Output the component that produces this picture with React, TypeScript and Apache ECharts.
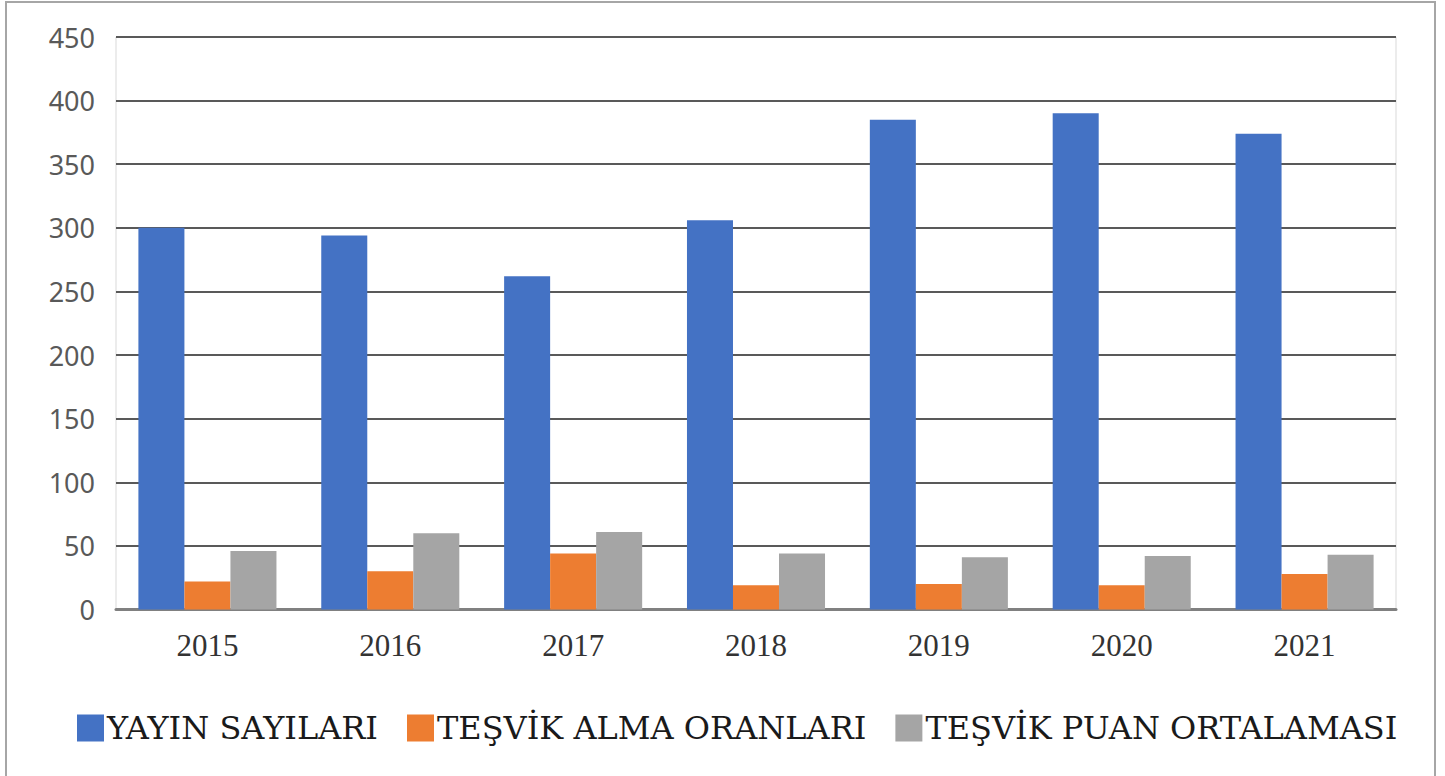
import React, { useEffect, useRef } from "react";
import * as echarts from "echarts";

const categories = ["2015", "2016", "2017", "2018", "2019", "2020", "2021"];
const yayinSayilari = [300, 294, 262, 306, 385, 390, 374];
const tesvikAlmaOranlari = [22, 30, 44, 19, 20, 19, 28];
const tesvikPuanOrtalamasi = [46, 60, 61, 44, 41, 42, 43];
const seriesNames = ["YAYIN SAYILARI", "TEŞVİK ALMA ORANLARI", "TEŞVİK PUAN ORTALAMASI"];
const colors = ["#4472C4", "#ED7D31", "#A5A5A5"];

export default function App() {
  const ref = useRef<HTMLDivElement>(null);
  useEffect(() => {
    document.body.style.margin = "0";
    const chart = echarts.init(ref.current!, undefined, { renderer: "svg" });
    const data = [yayinSayilari, tesvikAlmaOranlari, tesvikPuanOrtalamasi];
    chart.setOption({
      animation: false,
      backgroundColor: "#ffffff",
      color: colors,
      grid: {
        left: 116,
        right: 49,
        top: 37,
        bottom: 166.5,
        show: true,
        borderColor: "#d9d9d9",
        borderWidth: 1,
      },
      legend: {
        left: 72,
        top: 707,
        itemWidth: 27,
        itemHeight: 27,
        itemGap: 29,
        icon: "rect",
        textStyle: {
          fontFamily: "DejaVu Serif",
          fontSize: 32,
          color: "#1a1a1a",
          padding: [0, 0, 0, -2],
        },
        data: seriesNames,
      },
      xAxis: {
        type: "category",
        data: categories,
        axisLine: { show: true, lineStyle: { color: "#808080", width: 3 } },
        axisTick: { show: false },
        axisLabel: {
          fontFamily: "Liberation Serif",
          fontSize: 31,
          color: "#333333",
          margin: 20,
        },
      },
      yAxis: {
        type: "value",
        min: 0,
        max: 450,
        interval: 50,
        axisLine: { show: false },
        axisTick: { show: false },
        splitLine: { lineStyle: { color: "#595959", width: 2 } },
        axisLabel: {
          fontFamily: "Noto Sans",
          fontSize: 27,
          color: "#595959",
          margin: 21,
        },
      },
      series: seriesNames.map((name, i) => ({
        name,
        type: "bar",
        data: data[i],
        barGap: "0%",
        barCategoryGap: "24.5%",
        itemStyle: { color: colors[i] },
      })),
      graphic: [
        {
          type: "rect",
          shape: { x: 6, y: 2, width: 1429, height: 790 },
          style: { fill: "none", stroke: "#a6a6a6", lineWidth: 2 },
          silent: true,
        },
      ],
    });
    return () => chart.dispose();
  }, []);
  return <div ref={ref} style={{ width: 1445, height: 776 }} />;
}
